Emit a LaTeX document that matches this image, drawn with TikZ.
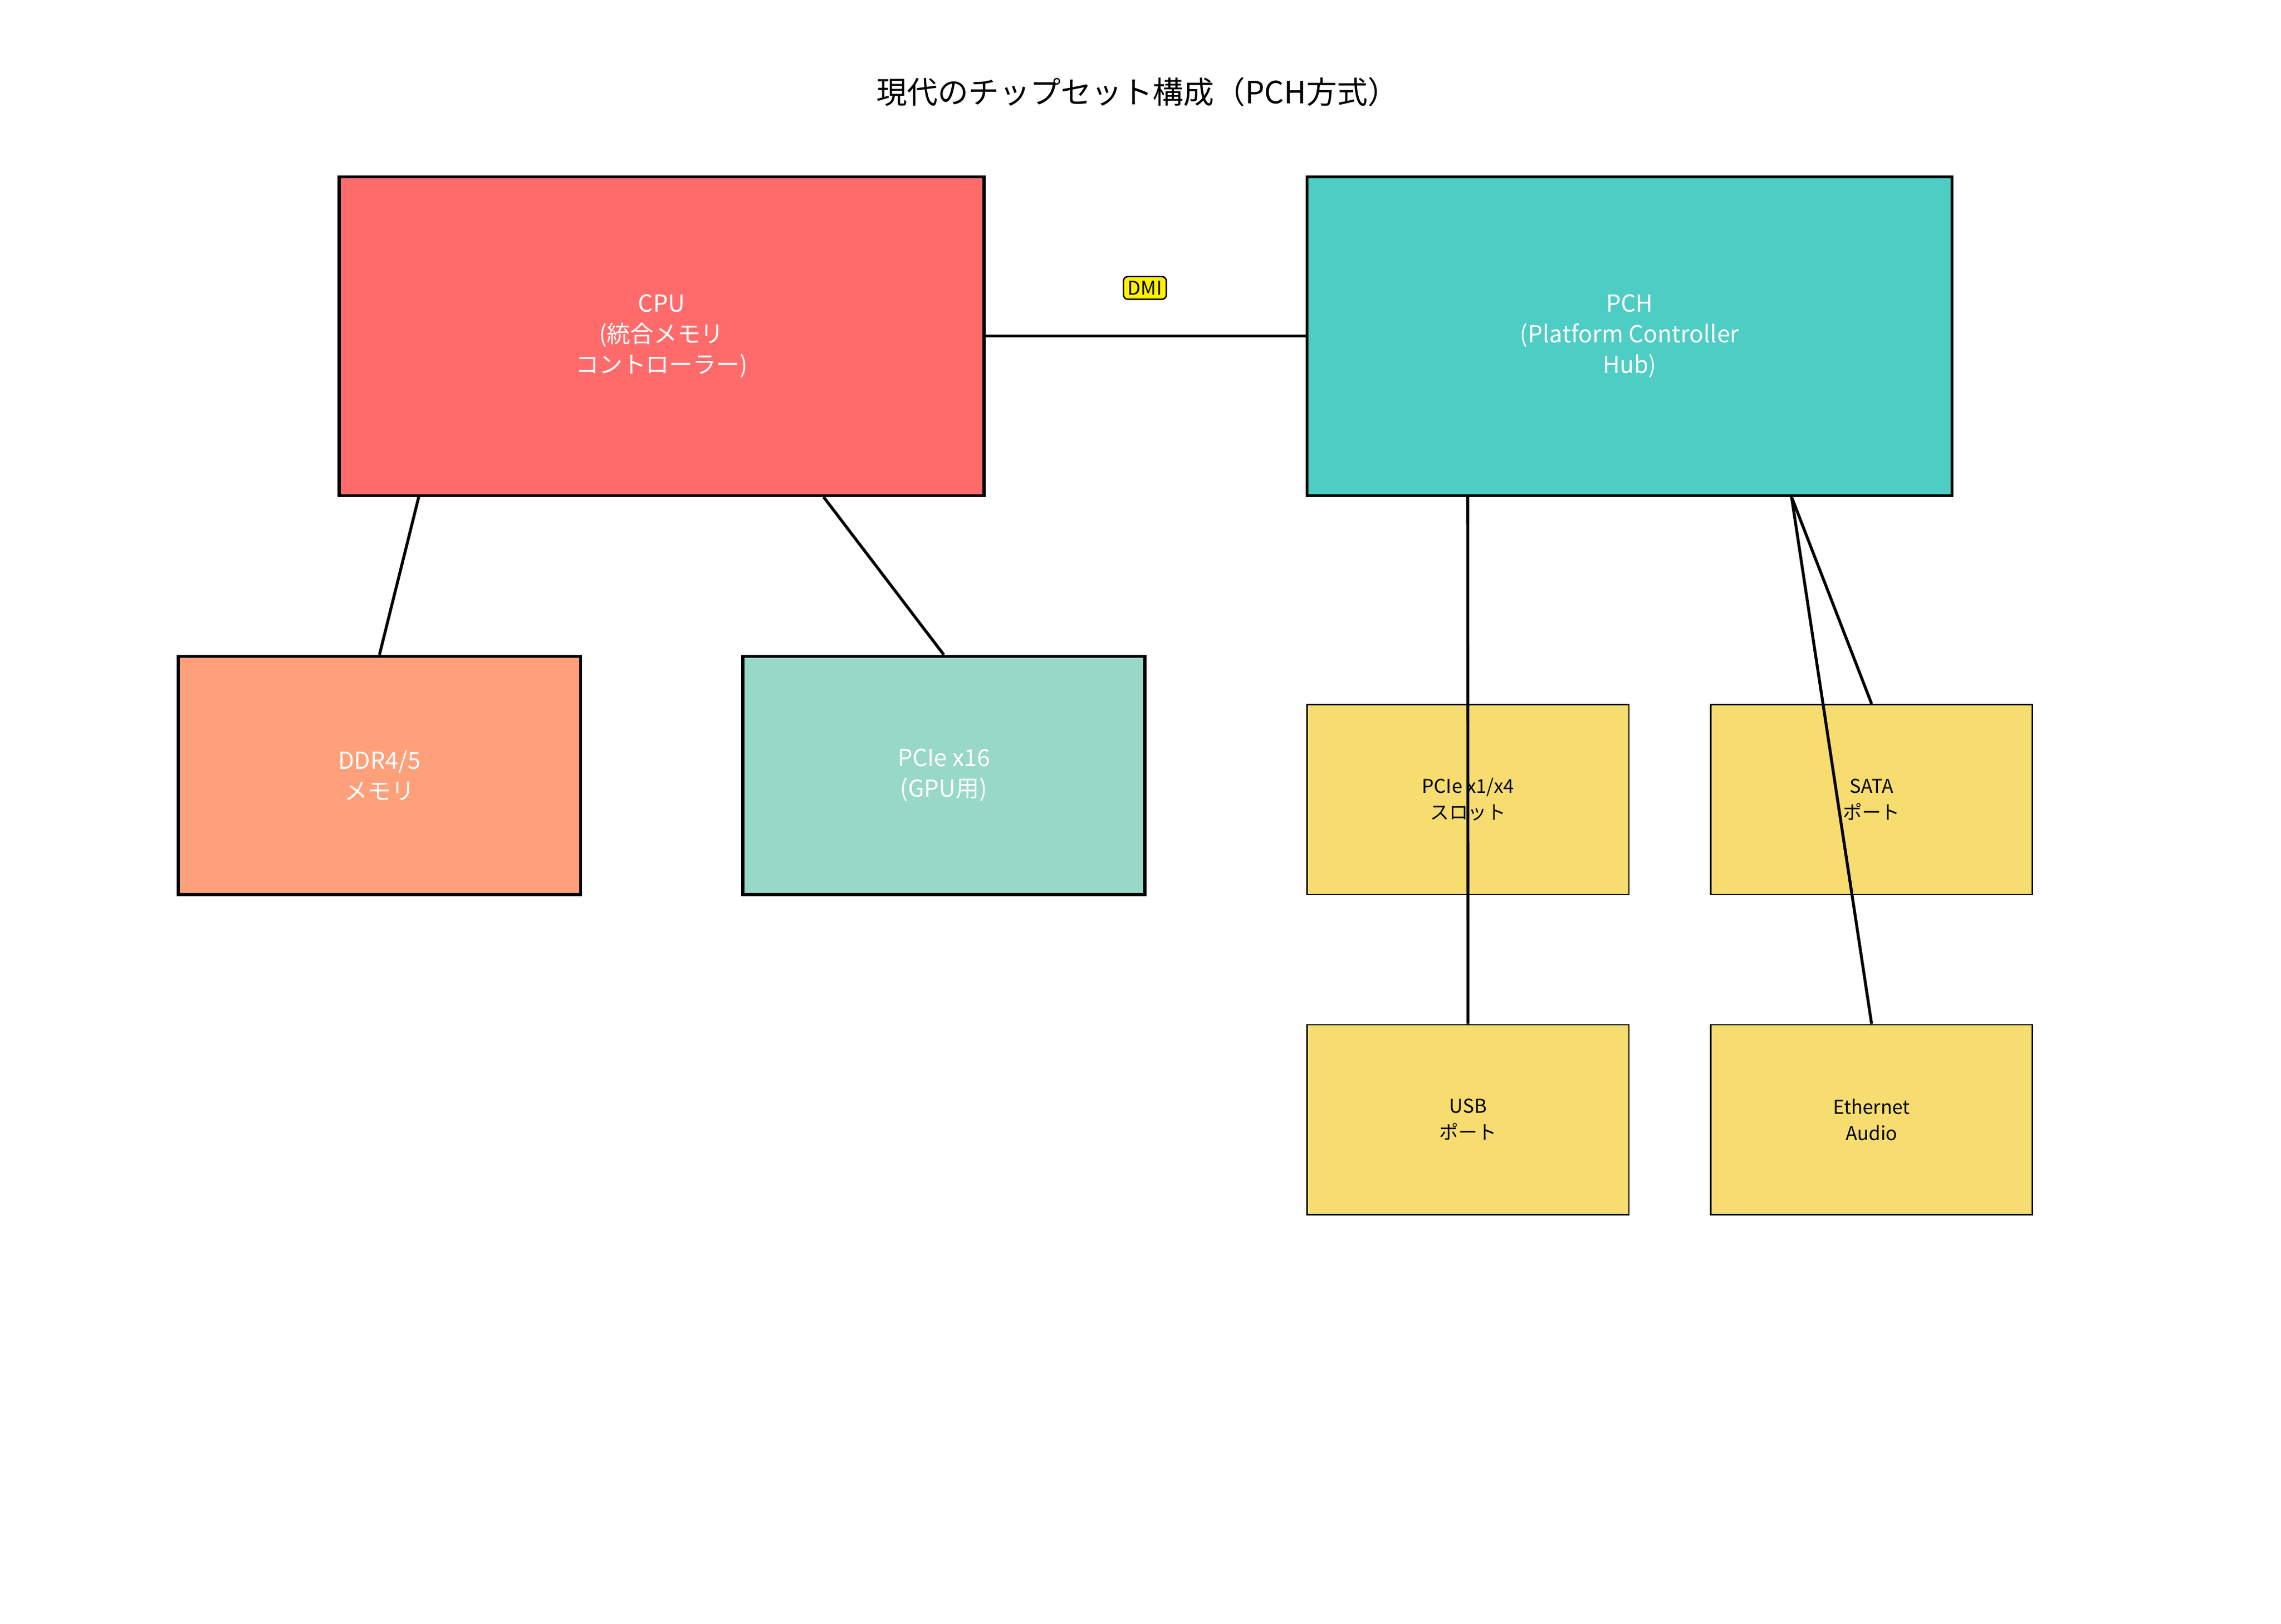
\documentclass[tikz,border=0pt]{standalone}
\usepackage{fontspec}
\setmainfont{Noto Sans CJK JP}
\usetikzlibrary{calc}
\definecolor{cpuc}{HTML}{FF6B6B}
\definecolor{pchc}{HTML}{4ECDC4}
\definecolor{ddrc}{HTML}{FFA07A}
\definecolor{gpuc}{HTML}{98D8C8}
\definecolor{ioc}{HTML}{F7DC6F}
\begin{document}
\begin{tikzpicture}[x=1pt,y=-1pt,
  bigbox/.style={draw=black,line width=2pt,text=white,font=\fontsize{16}{21}\selectfont,align=center,inner sep=0pt},
  iobox/.style={draw=black,line width=1pt,fill=ioc,text=black,font=\fontsize{13}{18}\selectfont,align=center,minimum width=220pt,minimum height=130pt,inner sep=0pt},
  link/.style={line width=2pt}]
\useasboundingbox (0,0) rectangle (1560,1111);
\node[font=\fontsize{21}{25}\selectfont] (title) at (778,63) {現代のチップセット構成（PCH方式）};
\node[bigbox,fill=cpuc,minimum width=441pt,minimum height=218pt] (cpu) at (452.5,230) {CPU\\(統合メモリ\\コントローラー)};
\node[bigbox,fill=pchc,minimum width=441pt,minimum height=218pt] (pch) at (1114.5,230) {PCH\\(Platform Controller\\Hub)};
\node[bigbox,fill=ddrc,minimum width=275pt,minimum height=163pt] (ddr) at (259.5,530.5) {DDR4/5\\メモリ};
\node[bigbox,fill=gpuc,minimum width=275pt,minimum height=163pt] (gpu) at (645.5,530.5) {PCIe x16\\(GPU用)};
\node[iobox] (pcie) at (1004,547) {PCIe x1/x4\\スロット};
\node[iobox] (sata) at (1280,547) {SATA\\ポート};
\node[iobox] (usb) at (1004,766) {USB\\ポート};
\node[iobox] (eth) at (1280,766) {Ethernet\\Audio};
\draw[link] (cpu.east) -- (pch.west);
\node[draw=black,line width=1pt,fill=yellow,rounded corners=3pt,font=\fontsize{13}{15}\selectfont,inner sep=3pt] (dmi) at (783,197) {DMI};
\coordinate (c1) at ($(cpu.south west)!0.125!(cpu.south east)$);
\coordinate (c2) at ($(cpu.south west)!0.75!(cpu.south east)$);
\coordinate (p1) at ($(pch.south west)!0.25!(pch.south east)$);
\coordinate (p2) at ($(pch.south west)!0.75!(pch.south east)$);
\draw[link] (c1) -- (ddr.north);
\draw[link] (c2) -- (gpu.north);
\draw[link] (p1) -- (usb.north);
\draw[link] (p2) -- (sata.north);
\draw[link] (p2) -- (eth.north);
\end{tikzpicture}
\end{document}
